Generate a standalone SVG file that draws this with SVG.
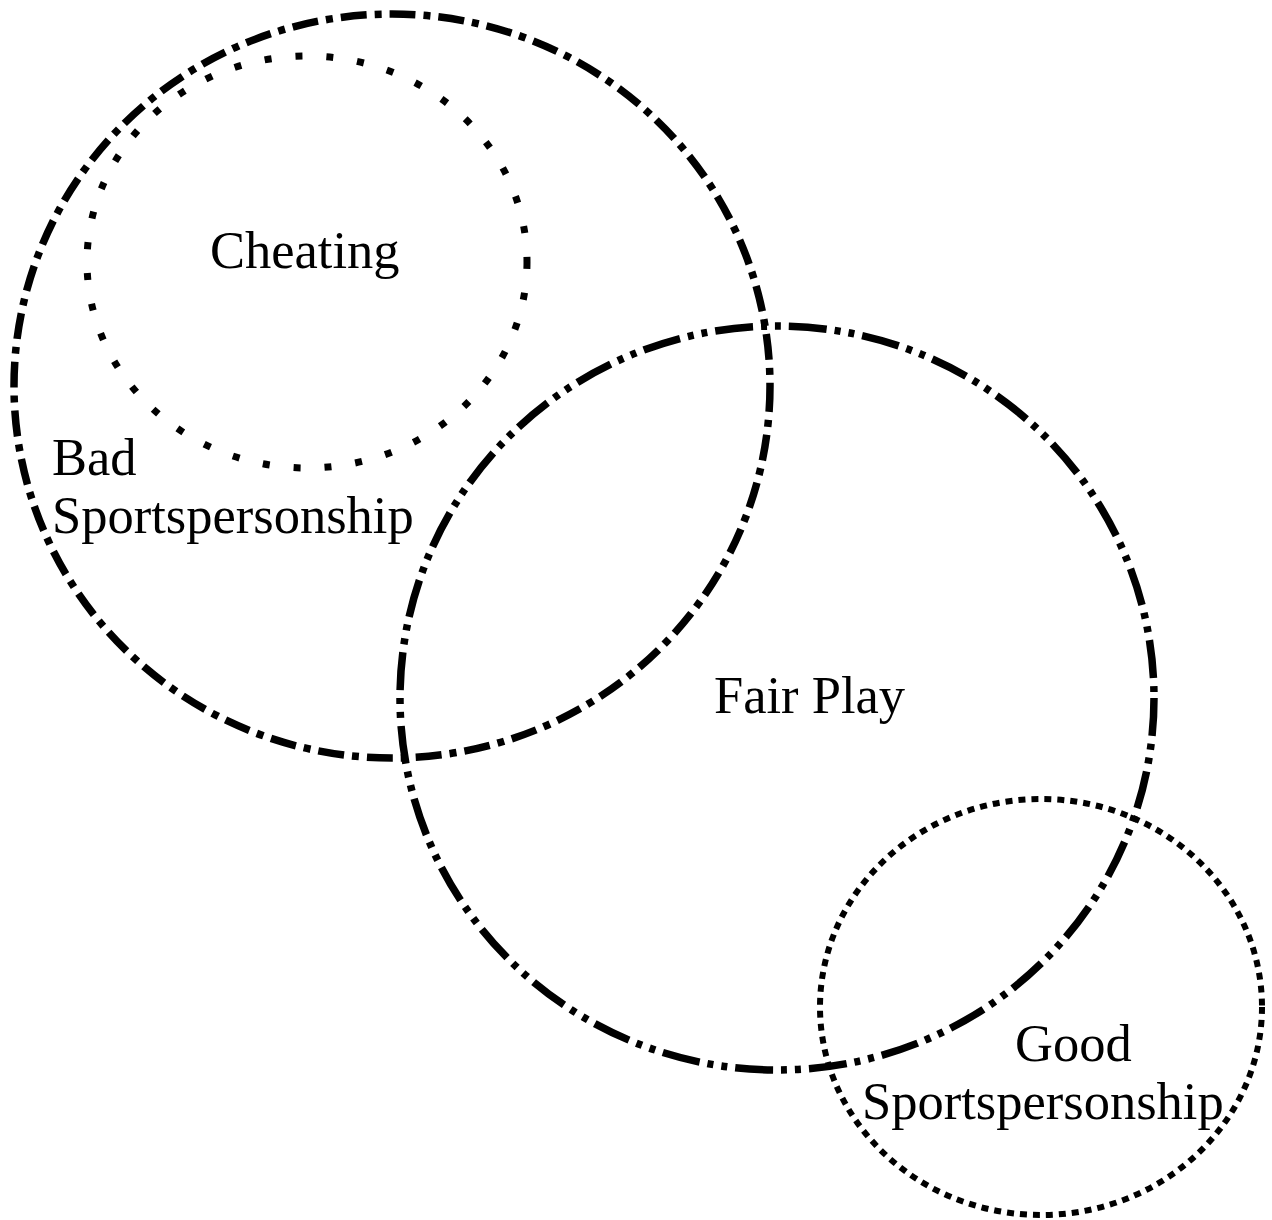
<svg xmlns="http://www.w3.org/2000/svg" width="1272" height="1220" viewBox="0 0 1272 1220">
<style>
.c{fill:none;stroke:#000}
.dashdot{stroke-width:7.5;stroke-dasharray:26 8 7 8}
.dashdotdot{stroke-width:7.5;stroke-dasharray:38 8 6 8 6 8}
.sparse{stroke-width:7;stroke-dasharray:7 24}
.dense{stroke-width:6;stroke-dasharray:7 6}
text{font-family:"Liberation Serif","Times New Roman",serif;font-size:52.5px;fill:#000}
</style>
<rect width="1272" height="1220" fill="#fff"/>
<g id="bad">
<ellipse class="c dashdot" cx="392" cy="386" rx="378" ry="372"/>
<text x="52" y="475">Bad</text>
<text x="52" y="533">Sportspersonship</text>
</g>
<g id="cheating">
<ellipse class="c sparse" cx="307" cy="262" rx="220" ry="206"/>
<text x="210" y="268">Cheating</text>
</g>
<g id="fairplay">
<ellipse class="c dashdotdot" cx="777" cy="698" rx="377" ry="372"/>
<text x="714" y="713">Fair Play</text>
</g>
<g id="good">
<ellipse class="c dense" cx="1041" cy="1007" rx="221" ry="208"/>
<text x="1015" y="1061">Good</text>
<text x="862" y="1119">Sportspersonship</text>
</g>
<g id="connectors"></g>
</svg>
